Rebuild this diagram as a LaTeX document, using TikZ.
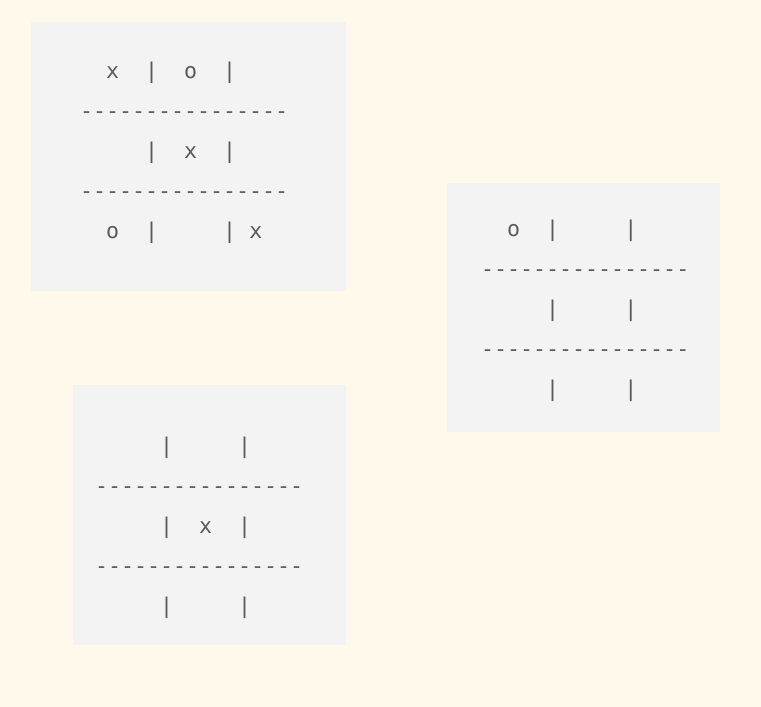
\documentclass[tikz,border=0pt]{standalone}
\usepackage{fontspec}
\setmonofont{DejaVu Sans Mono}
\usetikzlibrary{positioning}
\definecolor{paper}{HTML}{FFF9EC}
\definecolor{boardgray}{HTML}{F3F3F3}
\definecolor{ink}{HTML}{5A5A5A}
\tikzset{
    board/.style={fill=boardgray, inner sep=0pt, anchor=north west},
    row/.style={anchor=base west, inner sep=0pt, text=ink,
                font=\ttfamily\fontsize{21.6}{26}\selectfont},
    }

\begin{document}
\begin{tikzpicture}[x=1pt,y=-1pt]
    \fill[paper] (0,0) rectangle (761,707);

    % boards
    \node[board, minimum width=315pt, minimum height=269pt] (b1) at (31,22) {};
    \node[board, minimum width=273pt, minimum height=249pt] (b2) at (447,183) {};
    \node[board, minimum width=273pt, minimum height=260pt] (b3) at (73,385) {};

    \foreach \t [count=\i] in {~~x~~|~~o~~|, ----------------, ~~~~~|~~x~~|,
                                ----------------, ~~o~~|~~~~~|~x}
        \node[row] (b1r\i) at (80, 38+40*\i) {\t};

    \foreach \t [count=\i] in {~~o~~|~~~~~|, ----------------, ~~~~~|~~~~~|,
                                ----------------, ~~~~~|~~~~~|}
        \node[row] (b2r\i) at (481, 196+40*\i) {\t};

    \foreach \t [count=\i] in {~~~~~|~~~~~|, ----------------, ~~~~~|~~x~~|,
                                ----------------, ~~~~~|~~~~~|}
        \node[row] (b3r\i) at (95, 413+40*\i) {\t};
\end{tikzpicture}
\end{document}
